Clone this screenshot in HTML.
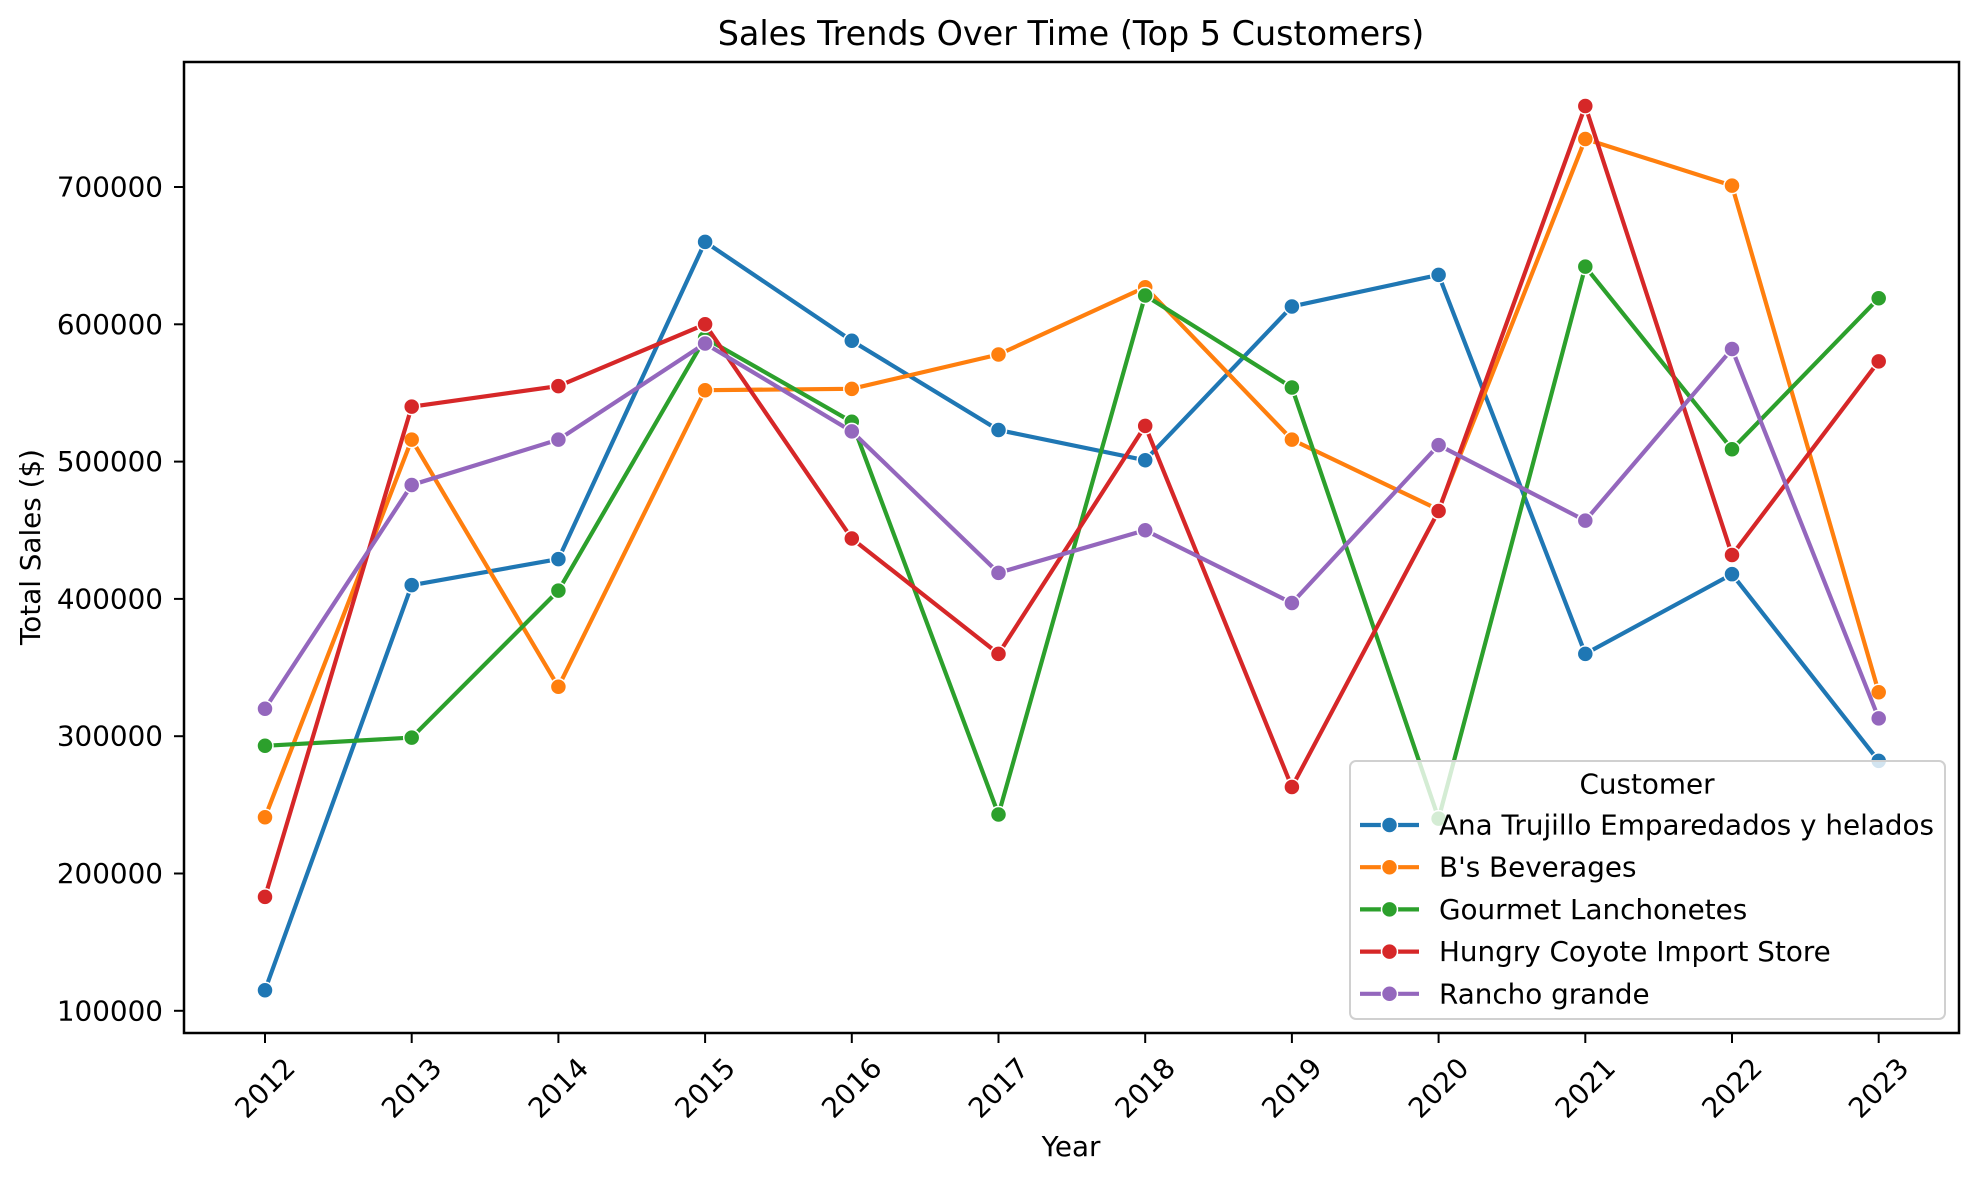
<!DOCTYPE html>
<html><head><meta charset="utf-8"><style>
html,body{margin:0;padding:0;background:#fff}
svg{display:block;font-family:"DejaVu Sans","Liberation Sans",sans-serif}
</style></head><body>
<svg id="chart" width="1979" height="1181" viewBox="0 0 1979 1181" xmlns="http://www.w3.org/2000/svg">
<rect width="1979" height="1181" fill="#fff"/>
<text x="1071" y="45" font-size="33.4" text-anchor="middle">Sales Trends Over Time (Top 5 Customers)</text>
<g id="grid"></g>
<g id="series"></g>
<rect x="184" y="62" width="1775" height="971" fill="none" stroke="#000" stroke-width="2.5"/>
<g id="axes"></g>
<text x="1071" y="1156" font-size="27.8" text-anchor="middle">Year</text>
<text transform="translate(40,547) rotate(-90)" font-size="27.8" text-anchor="middle">Total Sales ($)</text>
<g id="legend"></g>
</svg>
<script>
const years = [2012,2013,2014,2015,2016,2017,2018,2019,2020,2021,2022,2023];
const yTicks = [100000,200000,300000,400000,500000,600000,700000];
const seriesNames = ["Ana Trujillo Emparedados y helados","B's Beverages","Gourmet Lanchonetes","Hungry Coyote Import Store","Rancho grande"];
const anaValues = [115000,410000,429000,660000,588000,523000,501000,613000,636000,360000,418000,282000];
const bsValues = [241000,516000,336000,552000,553000,578000,627000,516000,465000,735000,701000,332000];
const gourmetValues = [293000,299000,406000,590000,529000,243000,621000,554000,240000,642000,509000,619000];
const hungryValues = [183000,540000,555000,600000,444000,360000,526000,263000,464000,759000,432000,573000];
const ranchoValues = [320000,483000,516000,586000,522000,419000,450000,397000,512000,457000,582000,313000];
const colors = ["#1f77b4","#ff7f0e","#2ca02c","#d62728","#9467bd"];
const allValues = [anaValues,bsValues,gourmetValues,hungryValues,ranchoValues];

const NS="http://www.w3.org/2000/svg";
function xScale(i){ return 265 + i*146.7; }
function yScale(v){ return 187 + (700000 - v)/100000*137.3; }
function mk(tag, attrs, parent){ const e=document.createElementNS(NS,tag); for(const k in attrs) e.setAttribute(k,attrs[k]); parent.appendChild(e); return e; }

const axes=document.getElementById('axes');
years.forEach((yr,i)=>{
  const x=xScale(i);
  const t=mk('line',{x1:x,x2:x,y1:1033,y2:1043,stroke:'#000','stroke-width':2},axes);
  
  
  const lbl=mk('text',{transform:`translate(${x},${1088}) rotate(-45)`,'font-size':27.8,'text-anchor':'middle','dominant-baseline':'central'},axes);
  lbl.textContent=yr;
  
  
});
yTicks.forEach(v=>{
  const y=yScale(v);
  const t=mk('line',{x1:174,x2:184,y1:y,y2:y,stroke:'#000','stroke-width':2},axes);
  
  
  const lbl=mk('text',{x:163,y:y,'font-size':27.8,'text-anchor':'end','dominant-baseline':'central'},axes);
  lbl.textContent=v;
  
  
});

const sg=document.getElementById('series');
allValues.forEach((vals,s)=>{
  const g=mk('g',{},sg);
  
  
  const pts=vals.map((v,i)=>xScale(i)+','+yScale(v)).join(' ');
  const pl=mk('polyline',{points:pts,fill:'none',stroke:colors[s],'stroke-width':4.2,'stroke-linejoin':'round'},g);
  
  
  vals.forEach((v,i)=>{
    const c=mk('circle',{cx:xScale(i),cy:yScale(v),r:8,fill:colors[s],stroke:'#fff','stroke-width':1.5},g);
    
    
  });
});

const lg=document.getElementById('legend');
const box=mk('rect',{x:1350,y:761,width:595,height:258,rx:6,fill:'#fff','fill-opacity':0.8,stroke:'#d0d0d0','stroke-width':2},lg);


const lt=mk('text',{x:1647,y:784,'font-size':27.8,'text-anchor':'middle','dominant-baseline':'central'},lg);
lt.textContent='Customer';


seriesNames.forEach((n,s)=>{
  const y=825+s*42.2;
  const g=mk('g',{},lg);
  
  
  mk('line',{x1:1360,x2:1419,y1:y,y2:y,stroke:colors[s],'stroke-width':4.2},g);
  mk('circle',{cx:1389.5,cy:y,r:8,fill:colors[s],stroke:'#fff','stroke-width':1.5},g);
  const t=mk('text',{x:1439,y:y,'font-size':27.8,'dominant-baseline':'central'},g);
  t.textContent=n;
});
</script>
</body></html>
